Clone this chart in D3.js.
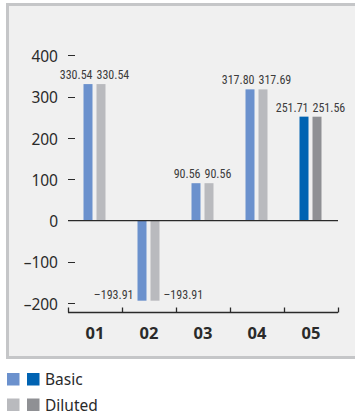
<!DOCTYPE html>
<html>
<head>
<meta charset="utf-8">
<script src="https://cdn.jsdelivr.net/npm/d3@7"></script>
<style>
  html, body { margin: 0; padding: 0; background: #ffffff; }
  svg { display: block; }
</style>
</head>
<body>
<svg id="chart" width="355" height="416"></svg>
<script>
// Earnings per share by period
const categories = ["01", "02", "03", "04", "05"];
const basicValues = [330.54, -193.91, 90.56, 317.80, 251.71];
const dilutedValues = [330.54, -193.91, 90.56, 317.69, 251.56];
const yTicks = [-200, -100, 0, 100, 200, 300, 400];
const seriesNames = ["Basic", "Diluted"];

const colors = {
  Basic:   { normal: "#6b91cd", latest: "#0063b2" },
  Diluted: { normal: "#b9babe", latest: "#8f9094" }
};

const ink = "#2a2a2a";
const svg = d3.select("#chart");

// Panel behind the plot
svg.append("rect")
  .attr("x", 7.5).attr("y", 4.5)
  .attr("width", 360).attr("height", 353)
  .attr("fill", "#f0f0f0")
  .attr("stroke", "#c5c6c8")
  .attr("stroke-width", 3);

const plotLeft = 68, plotRight = 338, axisY = 312.5;

const x0 = d3.scaleBand().domain(categories).range([plotLeft, plotRight]).padding(0);
const x1 = d3.scaleBand().domain(seriesNames).range([-11.5, 10.5]).paddingInner(0.3077).paddingOuter(0);
const y = d3.scaleLinear().domain([-200, 400]).range([303.2, 55.4]);

const dash = s => s.replace("-", "–").replace("−", "–");

// Y tick labels with short dash marks
const yg = svg.append("g");
yTicks.forEach(t => {
  yg.append("text")
    .attr("x", 58).attr("y", y(t))
    .attr("dy", "0.42em")
    .attr("text-anchor", "end")
    .attr("font-family", "'Noto Sans', 'Open Sans', sans-serif")
    .attr("font-size", 15.5)
    .attr("fill", ink)
    .text(dash(d3.format("")(t)));
  if (t !== 0) {
    yg.append("line")
      .attr("x1", 68).attr("x2", 75)
      .attr("y1", Math.round(y(t)) + 0.5).attr("y2", Math.round(y(t)) + 0.5)
      .attr("stroke", ink).attr("stroke-width", 1);
  }
});

// Bars
const rows = categories.map((c, i) => ({ cat: c, i, Basic: basicValues[i], Diluted: dilutedValues[i] }));
const latest = categories[categories.length - 1];

const groups = svg.append("g").selectAll("g")
  .data(rows).join("g")
  .attr("transform", d => `translate(${x0(d.cat) + x0.bandwidth() / 2},0)`);

groups.selectAll("rect")
  .data(d => seriesNames.map(s => ({ s, v: d[s], cat: d.cat })))
  .join("rect")
  .attr("x", d => x1(d.s))
  .attr("width", x1.bandwidth())
  .attr("y", d => y(Math.max(0, d.v)))
  .attr("height", d => Math.abs(y(d.v) - y(0)))
  .attr("fill", d => d.cat === latest ? colors[d.s].latest : colors[d.s].normal);

// Value labels: basic to the left edge of the pair, diluted to the right
const fmt = v => dash(d3.format(".2f")(v));
groups.selectAll("text.val")
  .data(d => seriesNames.map(s => ({ s, v: d[s] })))
  .join("text")
  .attr("class", "val")
  .attr("font-family", "'Liberation Sans Narrow', 'Roboto Condensed', 'Liberation Sans', sans-serif")
  .attr("font-size", 12)
  .attr("fill", "#3c3c3c")
  .attr("text-anchor", d => d.s === "Basic" ? "end" : "start")
  .attr("x", d => {
    if (d.v >= 0) return d.s === "Basic" ? x1(d.s) + x1.bandwidth() : x1(d.s);
    return d.s === "Basic" ? x1(d.s) - 4 : x1(d.s) + x1.bandwidth() + 4;
  })
  .attr("y", d => d.v >= 0 ? y(d.v) - 5 : y(d.v) - 2)
  .text(d => fmt(d.v));

// Zero line
svg.append("line")
  .attr("x1", plotLeft).attr("x2", plotRight)
  .attr("y1", y(0)).attr("y2", y(0))
  .attr("stroke", ink).attr("stroke-width", 1.3);

// Category axis along the bottom, ticks pointing up
const xAxis = svg.append("g");
xAxis.append("line")
  .attr("x1", plotLeft).attr("x2", plotRight)
  .attr("y1", axisY).attr("y2", axisY)
  .attr("stroke", ink).attr("stroke-width", 1.3);
const edges = categories.map(c => x0(c)).concat([plotRight]);
edges.forEach(ex => {
  xAxis.append("line")
    .attr("x1", Math.round(ex) + 0.5).attr("x2", Math.round(ex) + 0.5)
    .attr("y1", axisY).attr("y2", axisY - 5)
    .attr("stroke", ink).attr("stroke-width", 1.3);
});
xAxis.selectAll("text")
  .data(categories).join("text")
  .attr("x", d => x0(d) + x0.bandwidth() / 2)
  .attr("y", 338.5)
  .attr("text-anchor", "middle")
  .attr("font-family", "'Noto Sans', 'Open Sans', sans-serif")
  .attr("font-weight", "bold")
  .attr("font-size", 16.5)
  .attr("fill", ink)
  .text(d => d);

// Legend
const legend = svg.append("g");
seriesNames.forEach((s, i) => {
  const ly = 373 + i * 25.5;
  legend.append("rect").attr("x", 7).attr("y", ly).attr("width", 12.5).attr("height", 12.5).attr("fill", colors[s].normal);
  legend.append("rect").attr("x", 27).attr("y", ly).attr("width", 12.5).attr("height", 12.5).attr("fill", colors[s].latest);
  legend.append("text")
    .attr("x", 45).attr("y", ly + 6.5).attr("dy", "0.36em")
    .attr("font-family", "'Noto Sans', 'Open Sans', sans-serif")
    .attr("font-size", 15.5)
    .attr("fill", ink)
    .text(s);
});
</script>
</body>
</html>
